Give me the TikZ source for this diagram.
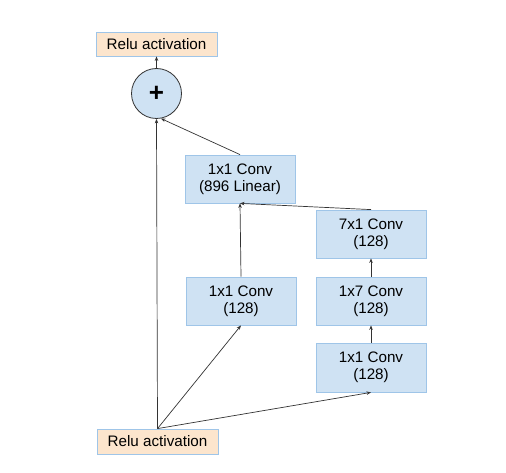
\documentclass[tikz,border=0pt]{standalone}
\usepackage{fontspec}
\setmainfont{Liberation Sans}
\usetikzlibrary{arrows.meta}
\definecolor{boxfill}{HTML}{CFE2F3}
\definecolor{boxline}{HTML}{9FC5E8}
\definecolor{relufill}{HTML}{FCE5CD}
\definecolor{edgecol}{HTML}{333333}
\begin{document}
\begin{tikzpicture}[x=1pt,y=-1pt,
  convbox/.style={draw=boxline,fill=boxfill,line width=0.8pt,minimum width=110pt,minimum height=48pt,inner sep=0pt,align=center,font=\fontsize{15.2}{17}\selectfont},
  relubox/.style={draw=boxline,fill=relufill,line width=0.8pt,minimum width=121pt,minimum height=24pt,inner sep=0pt,font=\fontsize{15.2}{17}\selectfont},
  addnode/.style={circle,draw=edgecol,fill=boxfill,line width=0.8pt,minimum size=50pt,inner sep=0pt,font=\fontsize{26}{26}\selectfont\bfseries},
  conn/.style={draw=edgecol,line width=0.7pt,-{Stealth[length=4.5pt,width=3.5pt]}}]
\useasboundingbox[fill=white] (0,0) rectangle (506,473);
\node[relubox] (relutop) at (156.5,44) {Relu activation};
\node[addnode] (plus) at (156.5,93.5) {+};
\node[convbox] (lin) at (240,179) {1x1 Conv\\(896 Linear)};
\node[convbox] (c7x1) at (371,234) {7x1 Conv\\(128)};
\node[convbox] (c1x7) at (371,301) {1x7 Conv\\(128)};
\node[convbox] (c1x1a) at (241,301) {1x1 Conv\\(128)};
\node[convbox,minimum height=49pt] (c1x1b) at (371,367.5) {1x1 Conv\\(128)};
\node[relubox,minimum height=25pt] (relubot) at (157.5,441.5) {Relu activation};
\draw[conn] (relubot.north) -- (plus.south);
\draw[conn] (relubot.north) -- (c1x1a.south);
\draw[conn] (relubot.north) -- (c1x1b.south);
\draw[conn] (c1x1a.north) -- (lin.south);
\draw[conn] (c7x1.north) -- (lin.south);
\draw[conn] (c1x1b.north) -- (c1x7.south);
\draw[conn] (c1x7.north) -- (c7x1.south);
\draw[conn] (lin.north) -- (plus.-80);
\draw[conn] (plus.north) -- (relutop.south);
\end{tikzpicture}
\end{document}
